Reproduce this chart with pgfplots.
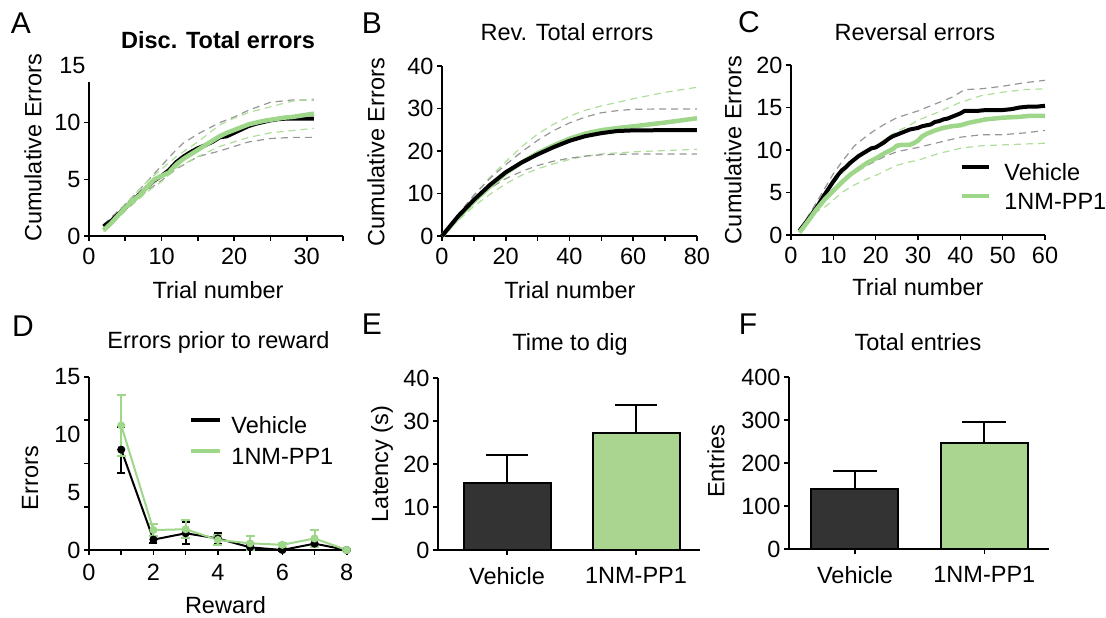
\documentclass[border=0pt]{standalone}
\usepackage{fontspec}
\setmainfont{Liberation Sans}
\usepackage{pgfplots}
\pgfplotsset{compat=1.18}
\definecolor{lgreen}{RGB}{158,214,138}
\definecolor{dgreen}{RGB}{175,222,155}
\definecolor{dgray}{RGB}{150,150,150}
\definecolor{barblack}{RGB}{51,51,51}
\definecolor{bargreen}{RGB}{170,213,145}
\newcommand{\fs}{\fontsize{23.5}{28}\selectfont}
\newcommand{\fl}{\fontsize{30}{36}\selectfont}
\pgfplotsset{
  panel/.style={
    scale only axis,
    anchor=south west,
    axis lines=left,
    axis line style={-, line width=1.6pt, black},
    tick align=outside,
    tick pos=left,
    major tick length=5pt,
    tick style={line width=1.6pt, black},
    tick label style={font=\fs, text=black},
    xticklabel style={yshift=-4pt},
    label style={font=\fs},
    title style={font=\fs},
    /pgf/number format/assume math mode=true,
    clip=false,
  },
  meanV/.style={black, line width=4pt, line join=round},
  meanG/.style={lgreen, line width=4.5pt, line join=round},
  semV/.style={dgray, line width=1.2pt, dash pattern=on 7pt off 5pt, forget plot},
  semG/.style={dgreen, line width=1.2pt, dash pattern=on 7pt off 5pt, forget plot},
}
\begin{document}
\begin{tikzpicture}
\path[use as bounding box] (0pt,0pt) rectangle (1106pt,618pt);

% ---------- A ----------
\begin{axis}[panel, at={(89pt,382pt)}, width=254pt, height=170pt,
  xmin=0, xmax=35, ymin=0, ymax=15,
  xtick={0,5,...,35}, xticklabels={0,,10,,20,,30,},
  ytick={0,5,10}, extra y ticks={15}, extra y tick style={major tick length=0pt},
  y axis line style={draw=none},
  title={\textbf{Disc. Total errors}}, title style={at={(axis description cs:0.508,1.118)}, anchor=center},
  xlabel={Trial number}, xlabel style={at={(axis description cs:0.508,-0.318)}, anchor=center},
  ylabel={Cumulative Errors}, ylabel style={at={(axis description cs:-0.2205,0.518)}, anchor=center},
]
\draw[line width=1.6pt] (axis cs:0,0) -- (axis cs:0,13.6);
\addplot[semV] table {
x y
2 1.0
5 2.8
8 4.8
10 6.2
12 7.6
13 8.2
15 9.0
18 10.0
20 10.5
22 11.1
25 11.8
28 12.0
31 12.0
};
\addplot[semV] table {
x y
2 0.7
5 2.3
8 4.0
10 4.9
12 5.9
15 7.0
18 7.5
20 7.9
22 8.3
25 8.6
28 8.7
31 8.7
};
\addplot[semG] table {
x y
2 0.7
5 2.8
8 4.8
10 5.9
12 7.0
15 8.3
18 9.8
20 10.4
22 10.9
25 11.4
28 11.9
31 12.1
};
\addplot[semG] table {
x y
2 0.4
5 2.2
8 3.9
10 4.8
12 6.0
15 7.0
18 7.9
20 8.3
22 8.7
25 9.1
28 9.3
31 9.5
};
\addplot[meanV] table {
x y
2 0.85
3 1.3
4 1.9
5 2.5
6 3.1
7 3.7
8 4.3
9 4.9
10 5.3
11 5.8
12 6.5
13 7.0
14 7.4
15 7.75
16 8.0
17 8.3
18 8.7
19 8.8
20 9.1
21 9.4
22 9.7
23 9.9
24 10.05
25 10.2
26 10.3
27 10.35
28 10.35
29 10.35
30 10.35
31 10.35
};
\addplot[meanG] table {
x y
2 0.5
3 1.1
4 1.8
5 2.5
6 3.1
7 3.6
8 4.3
9 5.0
10 5.3
11 5.6
12 6.3
13 6.8
14 7.2
15 7.6
16 8.0
17 8.4
18 8.8
19 9.1
20 9.35
21 9.6
22 9.85
23 10.0
24 10.15
25 10.25
26 10.35
27 10.45
28 10.5
29 10.6
30 10.7
31 10.8
};
\end{axis}

% ---------- B ----------
\begin{axis}[panel, at={(442pt,382pt)}, width=255pt, height=170pt,
  xmin=0, xmax=80, ymin=0, ymax=40,
  xtick={0,10,...,80}, xticklabels={0,,20,,40,,60,,80},
  ytick={0,10,...,40},
  title={Rev. Total errors}, title style={at={(axis description cs:0.49,1.165)}, anchor=center},
  xlabel={Trial number}, xlabel style={at={(axis description cs:0.502,-0.318)}, anchor=center},
  ylabel={Cumulative Errors}, ylabel style={at={(axis description cs:-0.259,0.494)}, anchor=center},
]
\addplot[semG] table {
x y
0 0
5 5
10 9.5
15 13.8
20 17.5
25 21.0
30 24.0
35 26.3
40 28.2
45 29.6
50 30.6
60 32.3
70 33.8
80 35.0
};
\addplot[semV] table {
x y
0 0
5 5
10 9.6
15 13.5
20 16.8
25 19.8
30 22.5
35 24.8
40 26.6
45 28.0
50 29.0
55 29.5
60 29.8
70 29.9
80 29.9
};
\addplot[semG] table {
x y
0 0
5 3.6
10 7.0
15 9.8
20 12.3
25 14.3
30 15.8
35 17.0
40 18.0
45 18.8
50 19.3
60 19.8
70 20.1
80 20.4
};
\addplot[semV] table {
x y
0 0
5 4.4
10 8.3
15 11.2
20 13.5
25 15.2
30 16.6
35 17.6
40 18.3
45 18.8
50 19.1
60 19.3
80 19.3
};
\addplot[meanG] table {
x y
0 0
5 4.3
10 8.2
15 11.6
20 14.8
25 17.3
30 19.5
35 21.3
40 22.9
45 24.1
50 24.9
55 25.4
60 25.8
70 26.7
80 27.7
};
\addplot[meanV] table {
x y
0 0
5 4.6
10 8.5
15 12.0
20 15.0
25 17.3
30 19.2
35 20.9
40 22.4
45 23.5
50 24.2
55 24.7
60 24.85
70 24.9
80 24.9
};
\end{axis}

% ---------- C ----------
\begin{axis}[panel, at={(791pt,383pt)}, width=254pt, height=170pt,
  xmin=0, xmax=60, ymin=0, ymax=20,
  xtick={0,10,...,60}, ytick={0,5,...,20},
  title={Reversal errors}, title style={at={(axis description cs:0.488,1.159)}, anchor=center},
  xlabel={Trial number}, xlabel style={at={(axis description cs:0.5,-0.306)}, anchor=center},
  ylabel={Cumulative Errors}, ylabel style={at={(axis description cs:-0.228,0.5)}, anchor=center},
  legend style={at={(axis description cs:0.665,0.418)}, anchor=north west, draw=none, fill=none,
    inner sep=0pt, outer sep=0pt, row sep=7pt, /tikz/column sep=13pt, font=\fs,
    nodes={inner sep=0pt, text height=17pt, text depth=5pt}},
  legend cell align=left,
  legend image code/.code={\draw[#1] (0pt,8pt) -- (27pt,8pt);},
]
\addplot[semV] table {
x y
2 0.6
5 3.0
8 5.5
10 7.2
12 8.6
15 10.5
18 11.7
20 12.4
22 13.0
25 13.8
30 14.6
35 15.6
38 16.2
41 17.1
45 17.2
50 17.5
55 17.9
60 18.2
};
\addplot[semG] table {
x y
2 0.4
5 2.8
8 4.8
10 6.0
12 7.2
15 8.7
18 9.8
20 10.4
22 11.2
25 12.2
28 12.9
30 13.5
35 14.5
40 15.6
45 16.4
50 16.8
55 17.1
60 17.2
};
\addplot[semV] table {
x y
2 0.5
5 2.6
8 4.3
10 5.5
12 6.3
15 7.3
18 8.2
20 8.7
22 9.2
25 9.8
30 10.3
35 10.9
40 11.5
45 11.8
50 11.8
55 12.0
60 12.3
};
\addplot[semG] table {
x y
2 0.3
5 2.4
8 3.3
10 4.1
12 5.0
15 5.9
18 6.6
20 7.0
22 7.5
25 8.2
28 8.6
30 8.8
35 9.6
40 10.2
45 10.5
50 10.6
55 10.7
60 10.8
};
\addplot[meanV] table {
x y
2 0.5
4 1.8
6 3.2
8 4.8
10 6.3
11 7.0
12 7.6
13 8.0
14 8.5
15 8.9
16 9.3
17 9.6
18 9.9
19 10.2
20 10.3
21 10.6
22 10.9
23 11.3
24 11.6
25 11.8
26 12.0
27 12.2
28 12.4
29 12.5
30 12.6
31 12.8
32 12.9
33 13.0
34 13.3
35 13.4
36 13.6
37 13.7
38 13.9
39 14.1
40 14.3
41 14.6
42 14.6
44 14.6
46 14.7
48 14.7
50 14.7
52 14.8
54 15.0
56 15.1
58 15.1
60 15.2
};
\addlegendentry{Vehicle}
\addplot[meanG] table {
x y
2 0.3
4 1.6
6 3.0
8 4.2
10 5.2
12 6.2
14 7.1
16 7.8
18 8.5
20 9.0
22 9.6
24 10.1
25 10.5
26 10.6
28 10.6
29 10.8
30 11.1
31 11.6
32 11.9
34 12.3
36 12.6
38 12.8
40 12.9
42 13.2
44 13.4
46 13.6
48 13.7
50 13.8
52 13.85
54 13.9
56 14.0
58 14.0
60 14.0
};
\addlegendentry{1NM-PP1}
\end{axis}

% ---------- D ----------
\begin{axis}[panel, at={(89pt,68pt)}, width=261pt, height=173pt,
  xmin=0, xmax=8.1, ymin=0, ymax=15,
  xtick={0,1,...,8}, xticklabels={0,,2,,4,,6,,8},
  xticklabel style={yshift=-2pt},
  ytick={0,3.75,7.5,11.25,15}, yticklabels={},
  extra y ticks={0,5,10,15}, extra y tick style={major tick length=0pt, yticklabel style={xshift=-5pt}},
  title={Errors prior to reward}, title style={at={(axis description cs:0.496,1.168)}, anchor=center},
  xlabel={Reward}, xlabel style={at={(axis description cs:0.523,-0.318)}, anchor=center},
  ylabel={Errors}, ylabel style={at={(axis description cs:-0.225,0.416)}, anchor=center},
  legend style={at={(axis description cs:0.383,0.769)}, anchor=north west, draw=none, fill=none,
    inner sep=0pt, outer sep=0pt, row sep=9pt, /tikz/column sep=9pt, font=\fs,
    nodes={inner sep=0pt, text height=17pt, text depth=5pt}},
  legend cell align=left,
  legend image code/.code={\draw[#1] (0pt,8pt) -- (29pt,8pt);},
]
\addlegendimage{black, line width=4.5pt}
\addlegendentry{Vehicle}
\addlegendimage{lgreen, line width=4.5pt}
\addlegendentry{1NM-PP1}
\addplot[black, line width=2pt, mark=*, mark size=3pt, forget plot,
  error bars/.cd, y dir=both, y explicit,
  error bar style={line width=2pt, black},
  error mark options={rotate=90, mark size=4pt, line width=2pt, black}]
  table[x=x, y=y, y error=e] {
x y e
1 8.7 2.0
2 0.9 0.3
3 1.45 0.95
4 1.0 0.5
5 0.23 0.2
6 0.0 0.1
7 0.55 0.3
8 0.0 0.05
};
\addplot[lgreen, line width=2pt, mark=*, mark size=3pt, forget plot,
  error bars/.cd, y dir=both, y explicit,
  error bar style={line width=2pt, lgreen},
  error mark options={rotate=90, mark size=4.5pt, line width=2pt, lgreen}]
  table[x=x, y=y, y error=e] {
x y e
1 10.8 2.65
2 1.73 0.55
3 1.8 0.8
4 0.87 0.4
5 0.58 0.6
6 0.45 0.15
7 1.0 0.7
8 0.0 0.05
};
\end{axis}

% ---------- E ----------
\begin{axis}[panel, at={(438pt,68pt)}, width=262pt, height=172pt,
  xmin=-0.535, xmax=1.496, ymin=0, ymax=40,
  xtick={0,1}, xticklabels={Vehicle,1NM-PP1},
  xticklabel style={yshift=-5pt},
  ytick={0,10,...,40},
  title={Time to dig}, title style={at={(axis description cs:0.504,1.163)}, anchor=center},
  ylabel={Latency (s)}, ylabel style={at={(axis description cs:-0.214,0.5)}, anchor=center},
]
\addplot[ybar, bar width=87pt, bar shift=0pt, fill=barblack, draw=black, line width=2pt,
  error bars/.cd, y dir=plus, y explicit,
  error bar style={line width=2pt, black},
  error mark options={rotate=90, mark size=21pt, line width=2pt, black}]
  coordinates {(0,15.5) +- (0,6.6)};
\addplot[ybar, bar width=87pt, bar shift=0pt, fill=bargreen, draw=black, line width=2pt,
  error bars/.cd, y dir=plus, y explicit,
  error bar style={line width=2pt, black},
  error mark options={rotate=90, mark size=21pt, line width=2pt, black}]
  coordinates {(1,27.2) +- (0,6.5)};
\end{axis}

% ---------- F ----------
\begin{axis}[panel, at={(789pt,69pt)}, width=260pt, height=172pt,
  xmin=-0.51, xmax=1.5, ymin=0, ymax=400,
  xtick={0,1}, xticklabels={Vehicle,1NM-PP1},
  xticklabel style={yshift=-5pt},
  ytick={0,100,...,400},
  title={Total entries}, title style={at={(axis description cs:0.496,1.169)}, anchor=center},
  ylabel={Entries}, ylabel style={at={(axis description cs:-0.281,0.51)}, anchor=center},
]
\addplot[ybar, bar width=87pt, bar shift=0pt, fill=barblack, draw=black, line width=2pt,
  error bars/.cd, y dir=plus, y explicit,
  error bar style={line width=2pt, black},
  error mark options={rotate=90, mark size=22pt, line width=2pt, black}]
  coordinates {(0,140) +- (0,41)};
\addplot[ybar, bar width=87pt, bar shift=0pt, fill=bargreen, draw=black, line width=2pt,
  error bars/.cd, y dir=plus, y explicit,
  error bar style={line width=2pt, black},
  error mark options={rotate=90, mark size=22pt, line width=2pt, black}]
  coordinates {(1,246) +- (0,49)};
\end{axis}

% panel letters
\node[font=\fl, anchor=center] at (21pt,595pt) {A};
\node[font=\fl, anchor=center] at (372pt,595pt) {B};
\node[font=\fl, anchor=center] at (749pt,596pt) {C};
\node[font=\fl, anchor=center] at (23pt,292pt) {D};
\node[font=\fl, anchor=center] at (372pt,294pt) {E};
\node[font=\fl, anchor=center] at (748pt,294pt) {F};
\end{tikzpicture}
\end{document}
